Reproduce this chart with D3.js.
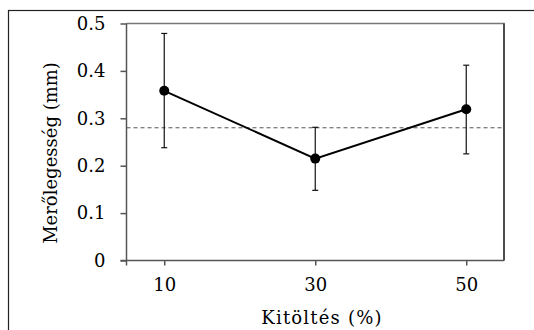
<!DOCTYPE html>
<html>
<head>
<meta charset="utf-8">
<script src="https://cdn.jsdelivr.net/npm/d3@7"></script>
<style>
  html, body { margin: 0; padding: 0; background: #fff; }
  svg text { font-family: "DejaVu Serif", serif; }
</style>
</head>
<body>
<div id="chart"></div>
<script>
// data
var fillPercent = [10, 30, 50];
var meanValues = [0.358, 0.215, 0.319];
var errTop = [0.479, 0.281, 0.412];
var errBottom = [0.238, 0.148, 0.225];
var referenceLevel = 0.28;
var yTicks = [0, 0.1, 0.2, 0.3, 0.4, 0.5];
var xTicks = [10, 30, 50];

var width = 534, height = 330;
var margin = {left: 126.5, top: 23.5, right: 30, bottom: 69.5};
var plotW = width - margin.left - margin.right;
var plotH = height - margin.top - margin.bottom;

var svg = d3.select("#chart").append("svg")
    .attr("width", width)
    .attr("height", height);

// outer frame (runs off right and bottom)
svg.append("rect")
    .attr("x", 8.5).attr("y", 10.5)
    .attr("width", 540).attr("height", 340)
    .attr("fill", "none")
    .attr("stroke", "#222")
    .attr("stroke-width", 1.2);

var g = svg.append("g")
    .attr("transform", "translate(" + margin.left + "," + margin.top + ")");

var x = d3.scaleLinear().domain([5, 55]).range([0, plotW]);
var y = d3.scaleLinear().domain([0, 0.5]).range([plotH, 0]);

// plot box, top and right
g.append("path")
    .attr("d", "M0,0H" + plotW + "V" + plotH)
    .attr("fill", "none")
    .attr("stroke", "#777")
    .attr("stroke-width", 1.5);
g.append("line")
    .attr("x1", plotW).attr("x2", plotW).attr("y1", 0).attr("y2", plotH)
    .attr("stroke", "#333").attr("stroke-width", 1.5);

var yAxis = d3.axisLeft(y)
    .tickValues(yTicks)
    .tickSize(6)
    .tickPadding(15)
    .tickFormat(function(d) { return d === 0 ? "0" : d3.format(".1f")(d); });

var xAxis = d3.axisBottom(x)
    .tickValues(xTicks)
    .tickSize(5)
    .tickPadding(13)
    .tickSizeOuter(5);

var yg = g.append("g").call(yAxis);
var xg = g.append("g").attr("transform", "translate(0," + plotH + ")").call(xAxis);

[yg, xg].forEach(function(a) {
  a.attr("font-size", null).attr("font-family", null);
  a.selectAll("path, line").attr("stroke", "#555").attr("stroke-width", 1.5);
  a.selectAll("text").attr("fill", "#000").style("font-size", "18px");
});
yg.select(".domain").attr("d", "M0,0V" + (plotH + 5));
xg.select(".domain").attr("d", "M-6,0H" + plotW);

// dashed reference line
g.append("line")
    .attr("x1", 0).attr("x2", plotW)
    .attr("y1", y(referenceLevel)).attr("y2", y(referenceLevel))
    .attr("stroke", "#555")
    .attr("stroke-width", 1)
    .attr("stroke-dasharray", "4,3");

// error bars
var bars = g.selectAll(".err").data(fillPercent).enter().append("g").attr("class", "err");
bars.append("line")
    .attr("x1", function(d) { return x(d); })
    .attr("x2", function(d) { return x(d); })
    .attr("y1", function(d, i) { return y(errTop[i]); })
    .attr("y2", function(d, i) { return y(errBottom[i]); })
    .attr("stroke", "#111").attr("stroke-width", 1.2);
bars.append("line")
    .attr("x1", function(d) { return x(d) - 3; })
    .attr("x2", function(d) { return x(d) + 3; })
    .attr("y1", function(d, i) { return y(errTop[i]); })
    .attr("y2", function(d, i) { return y(errTop[i]); })
    .attr("stroke", "#111").attr("stroke-width", 1.2);
bars.append("line")
    .attr("x1", function(d) { return x(d) - 3; })
    .attr("x2", function(d) { return x(d) + 3; })
    .attr("y1", function(d, i) { return y(errBottom[i]); })
    .attr("y2", function(d, i) { return y(errBottom[i]); })
    .attr("stroke", "#111").attr("stroke-width", 1.2);

// mean line + points
var line = d3.line()
    .x(function(d) { return x(d); })
    .y(function(d, i) { return y(meanValues[i]); });

g.append("path")
    .datum(fillPercent)
    .attr("d", line)
    .attr("fill", "none")
    .attr("stroke", "#000")
    .attr("stroke-width", 2);

g.selectAll(".pt").data(fillPercent).enter().append("circle")
    .attr("class", "pt")
    .attr("cx", function(d) { return x(d); })
    .attr("cy", function(d, i) { return y(meanValues[i]); })
    .attr("r", 5)
    .attr("fill", "#000");

// axis titles
svg.append("text")
    .attr("x", 322).attr("y", 324)
    .attr("text-anchor", "middle")
    .style("font-size", "18px")
    .style("letter-spacing", "1.2px")
    .attr("fill", "#000")
    .text("Kitöltés (%)");

svg.append("text")
    .attr("transform", "translate(57,153) rotate(-90)")
    .attr("text-anchor", "middle")
    .style("font-size", "18px")
    .attr("fill", "#000")
    .text("Merőlegesség (mm)");
</script>
</body>
</html>
